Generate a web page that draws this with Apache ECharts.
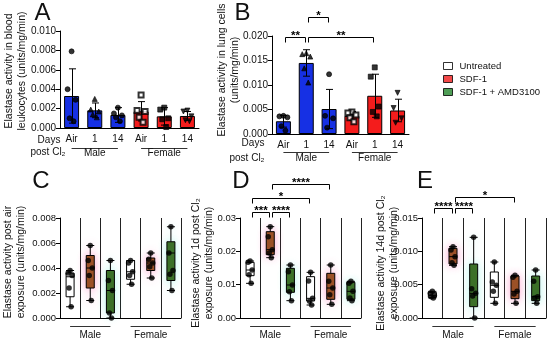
<!DOCTYPE html>
<html><head><meta charset="utf-8">
<script src="https://cdn.jsdelivr.net/npm/echarts@6/dist/echarts.min.js"></script>
<style>html,body{margin:0;padding:0;background:#fff}#c{width:550px;height:342px}</style>
</head><body><div id="c"></div>
<script>
const FONT = "'Liberation Sans', Arial, sans-serif";
// ---------------- DATA ----------------
const dayCats = ['Air', '1', '14', 'Air', '1', '14'];
const sexGroups = ['Male', 'Female'];
const treatments = ['Untreated', 'SDF-1', 'SDF-1 + AMD3100'];
const boxCats = ['M Untreated', 'M SDF-1', 'M SDF-1 + AMD3100', 'F Untreated', 'F SDF-1', 'F SDF-1 + AMD3100'];

// Panel A: blood leukocytes (mean, SD, individual points)
const aMean = [0.0033, 0.00182, 0.00134, 0.00172, 0.0012, 0.00124];
const aSD = [0.0028, 0.00076, 0.00076, 0.0010, 0.0009, 0.00046];
const aPoints = [
  [0.0079, 0.0040, 0.0029, 0.0010, 0.0007],
  [0.0030, 0.0019, 0.0017, 0.0014, 0.0011],
  [0.0021, 0.0015, 0.0013, 0.0011, 0.0007],
  [0.0034, 0.0018, 0.0017, 0.0011, 0.0006],
  [0.0021, 0.0019, 0.0010, 0.0009, 0.0001],
  [0.0018, 0.0017, 0.0012, 0.0008, 0.0007]
];
// Panel B: lung cells
const bMean = [0.0026, 0.0145, 0.0051, 0.0037, 0.0078, 0.0048];
const bSD = [0.0012, 0.0027, 0.0040, 0.0009, 0.0044, 0.0023];
const bPoints = [
  [0.0037, 0.0036, 0.0034, 0.0016, 0.0007],
  [0.0165, 0.0163, 0.0158, 0.0134, 0.0105],
  [0.0122, 0.0037, 0.0032, 0.0013],
  [0.0045, 0.0043, 0.0039, 0.0033, 0.0025],
  [0.0136, 0.0117, 0.0056, 0.0045, 0.0036],
  [0.0084, 0.0053, 0.0032, 0.0023]
];
// Panels C-E: box stats [min, Q1, median, Q3, max] and points
const cBox = [
  [0.0009, 0.0017, 0.0033, 0.0036, 0.0038],
  [0.0014, 0.0024, 0.0040, 0.0050, 0.0058],
  [0.0000, 0.0004, 0.0022, 0.0038, 0.0046],
  [0.0027, 0.0031, 0.0037, 0.0046, 0.0046],
  [0.0032, 0.0038, 0.0044, 0.0048, 0.0052],
  [0.0022, 0.0030, 0.0052, 0.0061, 0.0073]
];
const cPoints = [
  [0.0038, 0.0036, 0.0034, 0.0024, 0.0009],
  [0.0058, 0.0046, 0.0040, 0.0034, 0.0014],
  [0.0046, 0.0030, 0.0022, 0.0004, 0.0000],
  [0.0046, 0.0044, 0.0037, 0.0034, 0.0027],
  [0.0052, 0.0047, 0.0044, 0.0041, 0.0032],
  [0.0073, 0.0052, 0.0038, 0.0035, 0.0022]
];
const dBox = [
  [0.0104, 0.0127, 0.0144, 0.0167, 0.0171],
  [0.0181, 0.0190, 0.0205, 0.0259, 0.0274],
  [0.0052, 0.0077, 0.0099, 0.0149, 0.0159],
  [0.0039, 0.0051, 0.0059, 0.0124, 0.0137],
  [0.0041, 0.0056, 0.0090, 0.0134, 0.0159],
  [0.0052, 0.0056, 0.0080, 0.0107, 0.0110]
];
const dPoints = [
  [0.0171, 0.0167, 0.0144, 0.0130, 0.0104],
  [0.0274, 0.0244, 0.0205, 0.0195, 0.0181],
  [0.0159, 0.0139, 0.0099, 0.0079, 0.0052],
  [0.0137, 0.0111, 0.0059, 0.0050, 0.0039],
  [0.0159, 0.0110, 0.0090, 0.0070, 0.0041],
  [0.0110, 0.0104, 0.0080, 0.0060, 0.0052]
];
const eBox = [
  [0.0030, 0.0031, 0.0034, 0.00385, 0.0040],
  [0.0079, 0.0081, 0.0092, 0.01045, 0.0107],
  [0.0000, 0.0017, 0.0037, 0.0081, 0.0121],
  [0.0022, 0.0031, 0.0049, 0.0069, 0.0084],
  [0.0022, 0.0029, 0.0040, 0.0063, 0.0064],
  [0.0022, 0.0026, 0.0032, 0.0063, 0.0072]
];
const ePoints = [
  [0.0040, 0.0037, 0.0034, 0.0032, 0.0030],
  [0.0107, 0.0102, 0.0092, 0.0083, 0.0079],
  [0.0121, 0.0044, 0.0037, 0.0033, 0.0000],
  [0.0084, 0.0054, 0.0049, 0.0040, 0.0022],
  [0.0064, 0.0061, 0.0040, 0.0036, 0.0022],
  [0.0072, 0.0055, 0.0032, 0.0030, 0.0022]
];
// significance comparisons [fromCategory, toCategory, label]
const bSig = [[0, 1, '**'], [1, 4, '**'], [1, 2, '*']];
const dSig = [[0, 1, '***'], [1, 2, '****'], [0, 3, '*'], [1, 4, '****']];
const eSig = [[0, 1, '****'], [1, 2, '****'], [1, 4, '*']];
// y axis ranges [min, max, interval, decimals]
const aAxis = [0, 0.010, 0.002, 3];
const bAxis = [0, 0.020, 0.005, 3];
const cAxis = [0, 0.008, 0.002, 3];
const dAxis = [0, 0.03, 0.01, 2];
const eAxis = [0, 0.015, 0.005, 3];

// ---------------- STYLE ----------------
const BLUE = '#1630e4', RED = '#f41c1c';
const boxFill = ['#ffffff', '#94521f', '#3d6c22'];
const boxGlow = ['rgba(0,0,0,0)', 'rgba(255,70,160,0.45)', 'rgba(40,230,200,0.30)'];
const legendFill = ['#ffffff', '#f01c1c', '#23862c'];
const daySymbols = ['circle', 'triangle', 'circle', 'emptyRect', 'rect', 'triangle'];
const dayRot = [0, 0, 0, 0, 0, 180];
const TXT = '#111';

const grids = [
  { left: 60, top: 31, width: 139, height: 97 },
  { left: 272, top: 36, width: 137, height: 98 },
  { left: 60, top: 218, width: 121, height: 100 },
  { left: 240, top: 218, width: 121, height: 100 },
  { left: 422, top: 218, width: 124, height: 100 }
];

function yAxis(idx, ax, fs) {
  return {
    type: 'value', gridIndex: idx, min: ax[0], max: ax[1], interval: ax[2],
    axisLine: { show: true, lineStyle: { color: '#000', width: 1 } },
    axisTick: { show: true, length: 4, lineStyle: { color: '#000' } },
    axisLabel: { margin: 4, fontFamily: FONT, fontSize: fs, color: TXT, formatter: v => v.toFixed(ax[3]) },
    splitLine: { show: false }
  };
}
function xAxisDays(idx) {
  return {
    type: 'category', gridIndex: idx, data: dayCats, boundaryGap: true,
    axisLine: { lineStyle: { color: '#000', width: 1 } },
    axisTick: { alignWithLabel: true, length: 4, interval: 0, lineStyle: { color: '#000' } },
    axisLabel: { interval: 0, margin: 6, fontFamily: FONT, fontSize: 10, color: TXT },
    splitLine: { show: false }
  };
}
function xAxisBox(idx) {
  return {
    type: 'category', gridIndex: idx, data: boxCats, boundaryGap: true,
    axisLine: { lineStyle: { color: '#000', width: 1 } },
    axisTick: { alignWithLabel: true, length: 4, interval: 0, lineStyle: { color: '#000' } },
    axisLabel: { show: false },
    splitLine: { show: true, interval: 0, lineStyle: { color: '#222', width: 1 } }
  };
}
function barSeries(i, mean) {
  return {
    type: 'bar', xAxisIndex: i, yAxisIndex: i, barWidth: 15, silent: true, z: 2,
    data: mean.map((v, k) => ({ value: v, itemStyle: { color: k < 3 ? BLUE : RED } })),
    itemStyle: { borderColor: '#000', borderWidth: 1 }
  };
}
function errSeries(i, mean, sd) {
  return {
    type: 'custom', xAxisIndex: i, yAxisIndex: i, silent: true, z: 4,
    data: mean.map((m, k) => [k, Math.max(0, m - sd[k]), m + sd[k]]),
    encode: { x: 0, y: [1, 2] },
    renderItem(params, api) {
      const lo = api.coord([api.value(0), api.value(1)]);
      const hi = api.coord([api.value(0), api.value(2)]);
      const x = Math.round(lo[0]) + 0.5, w = 3.5;
      const st = { stroke: '#000', lineWidth: 1 };
      return { type: 'group', children: [
        { type: 'line', shape: { x1: x, y1: lo[1], x2: x, y2: hi[1] }, style: st },
        { type: 'line', shape: { x1: x - w, y1: hi[1], x2: x + w, y2: hi[1] }, style: st },
        { type: 'line', shape: { x1: x - w, y1: lo[1], x2: x + w, y2: lo[1] }, style: st }
      ] };
    }
  };
}
function pointSeries(i, pts, size, jitter, useSymbols) {
  const data = [];
  pts.forEach((arr, k) => arr.forEach((v, j) => data.push({
    value: [k, v],
    symbol: useSymbols ? daySymbols[k] : 'circle',
    symbolRotate: useSymbols ? dayRot[k] : 0,
    symbolOffset: [jitter[j % jitter.length], 0]
  })));
  return { type: 'scatter', xAxisIndex: i, yAxisIndex: i, data, symbolSize: size, silent: true, z: 6,
    itemStyle: { color: '#000', borderColor: '#000', borderWidth: useSymbols ? 0.8 : 0 } };
}
function boxSeries(i, box) {
  return {
    type: 'boxplot', xAxisIndex: i, yAxisIndex: i, boxWidth: [8, 8], silent: true, z: 3,
    data: box.map((b, k) => ({ value: b, itemStyle: {
      color: boxFill[k % 3], borderColor: '#000', borderWidth: 1,
      shadowColor: boxGlow[k % 3], shadowBlur: 8 } }))
  };
}
function assignLevels(sigs) {
  const lv = [];
  sigs.forEach((s, k) => {
    let L = 0;
    while (sigs.slice(0, k).some((t, j) => lv[j] === L && Math.max(s[0], t[0]) < Math.min(s[1], t[1]))) L++;
    lv.push(L);
  });
  return lv;
}
function bracketSeries(i, sigs, base, step) {
  const lv = assignLevels(sigs);
  return {
    type: 'custom', xAxisIndex: i, yAxisIndex: i, silent: true, z: 10, clip: false,
    data: sigs.map(s => [s[0], s[1], 0]),
    encode: { x: [0, 1], y: 2 },
    renderItem(params, api) {
      const s = sigs[params.dataIndex];
      const cs = params.coordSys;
      const y = Math.round(cs.y - base - lv[params.dataIndex] * step) + 0.5;
      const x1 = Math.round(api.coord([s[0], 0])[0] + 1.5) + 0.5;
      const x2 = Math.round(api.coord([s[1], 0])[0] - 1.5) + 0.5;
      const t = 5;
      return { type: 'group', children: [
        { type: 'polyline', shape: { points: [[x1, y + t], [x1, y], [x2, y], [x2, y + t]] },
          style: { stroke: '#000', lineWidth: 1, fill: 'none' } },
        { type: 'text', style: { text: s[2], x: (x1 + x2) / 2, y: y + 4, align: 'center', verticalAlign: 'bottom',
          font: 'bold 11.5px ' + FONT, fill: '#000' } }
      ] };
    }
  };
}
function groupSeries(i, lineOff, labelOff, halfW) {
  return {
    type: 'custom', xAxisIndex: i, yAxisIndex: i, silent: true, z: 10, clip: false,
    data: sexGroups.map((g, k) => [k * 3 + 1, 0]),
    encode: { x: 0, y: 1 },
    renderItem(params, api) {
      const cs = params.coordSys;
      const cx = api.coord([api.value(0), 0])[0];
      const cw = api.size([1, 0])[0];
      const yb = cs.y + cs.height;
      const ly = Math.round(yb + lineOff) + 0.5;
      return { type: 'group', children: [
        { type: 'line', shape: { x1: cx - halfW * cw, y1: ly, x2: cx + halfW * cw, y2: ly },
          style: { stroke: '#333', lineWidth: 1 } },
        { type: 'text', style: { text: sexGroups[params.dataIndex], x: cx, y: yb + labelOff, align: 'center',
          verticalAlign: 'middle', font: '10px ' + FONT, fill: TXT } }
      ] };
    }
  };
}
function gText(text, x, y, size, rot, extra) {
  return Object.assign({ type: 'text', x, y, rotation: rot || 0, silent: true,
    style: { text, x: 0, y: 0, align: 'center', verticalAlign: 'middle', font: size + 'px ' + FONT, fill: TXT, lineHeight: 13 } }, extra || {});
}

const R = Math.PI / 2;
const option = {
  animation: false,
  backgroundColor: '#fff',
  grid: grids.map(g => Object.assign({ containLabel: false }, g)),
  xAxis: [xAxisDays(0), xAxisDays(1), xAxisBox(2), xAxisBox(3), xAxisBox(4)],
  yAxis: [yAxis(0, aAxis, 10), yAxis(1, bAxis, 10), yAxis(2, cAxis, 9.5), yAxis(3, dAxis, 9.5), yAxis(4, eAxis, 9.5)],
  legend: {
    orient: 'vertical', left: 443, top: 61, itemWidth: 9, itemHeight: 7, itemGap: 3, icon: 'rect',
    selectedMode: false, padding: 0,
    textStyle: { fontFamily: FONT, fontSize: 9.5, color: TXT, padding: [0, 0, 0, 2] },
    data: treatments.map((t, k) => ({ name: t, itemStyle: { color: legendFill[k], borderColor: '#000', borderWidth: 1 } }))
  },
  series: [
    barSeries(0, aMean), errSeries(0, aMean, aSD), pointSeries(0, aPoints, 5, [0, -4, 4, -2, 2], true),
    groupSeries(0, 19.5, 25, 1.0),
    barSeries(1, bMean), errSeries(1, bMean, bSD), pointSeries(1, bPoints, 5, [0, -4, 4, -2, 2], true),
    groupSeries(1, 18, 24, 1.0), bracketSeries(1, bSig, -1, 20),
    boxSeries(2, cBox), pointSeries(2, cPoints, 5.5, [0, -2, 2, -1, 1], false), groupSeries(2, 8, 17, 1.0),
    boxSeries(3, dBox), pointSeries(3, dPoints, 5.5, [0, -2, 2, -1, 1], false), groupSeries(3, 8, 17, 1.0),
    bracketSeries(3, dSig, 6.3, 14),
    boxSeries(4, eBox), pointSeries(4, ePoints, 5.5, [0, -2, 2, -1, 1], false), groupSeries(4, 8, 17, 1.0),
    bracketSeries(4, eSig, 9.7, 11.6),
    ...treatments.map(t => ({ type: 'scatter', name: t, xAxisIndex: 2, yAxisIndex: 2, data: [] }))
  ],
  graphic: [
    gText('A', 42.5, 13.5, 24), gText('B', 242.5, 13.5, 24),
    gText('C', 41, 181, 24), gText('D', 241, 181, 24), gText('E', 425, 181, 24),
    gText('Elastase activity in blood\nleukocytes (units/mg/min)', 16, 71, 10.5, R),
    gText('Elastase activity in lung cells\n(units/mg/min)', 228.5, 70, 10.5, R),
    gText('Elastase activity post air\nexposure (units/mg/min)', 14.5, 262, 10.5, R),
    gText('Elastase activity 1d post Cl\u2082\nexposure (units/mg/min)', 203, 263, 10.5, R),
    gText('Elastase activity 14d post Cl\u2082\nexposure (units/mg/min)', 388, 263, 10.5, R),
    gText('Days', 49, 140, 10), gText('post Cl\u2082', 48, 152, 10),
    gText('Days', 253, 143.5, 10), gText('post Cl\u2082', 247, 158, 10)
  ]
};
const chart = echarts.init(document.getElementById('c'), null, { renderer: 'canvas' });
chart.setOption(option);
</script></body></html>
